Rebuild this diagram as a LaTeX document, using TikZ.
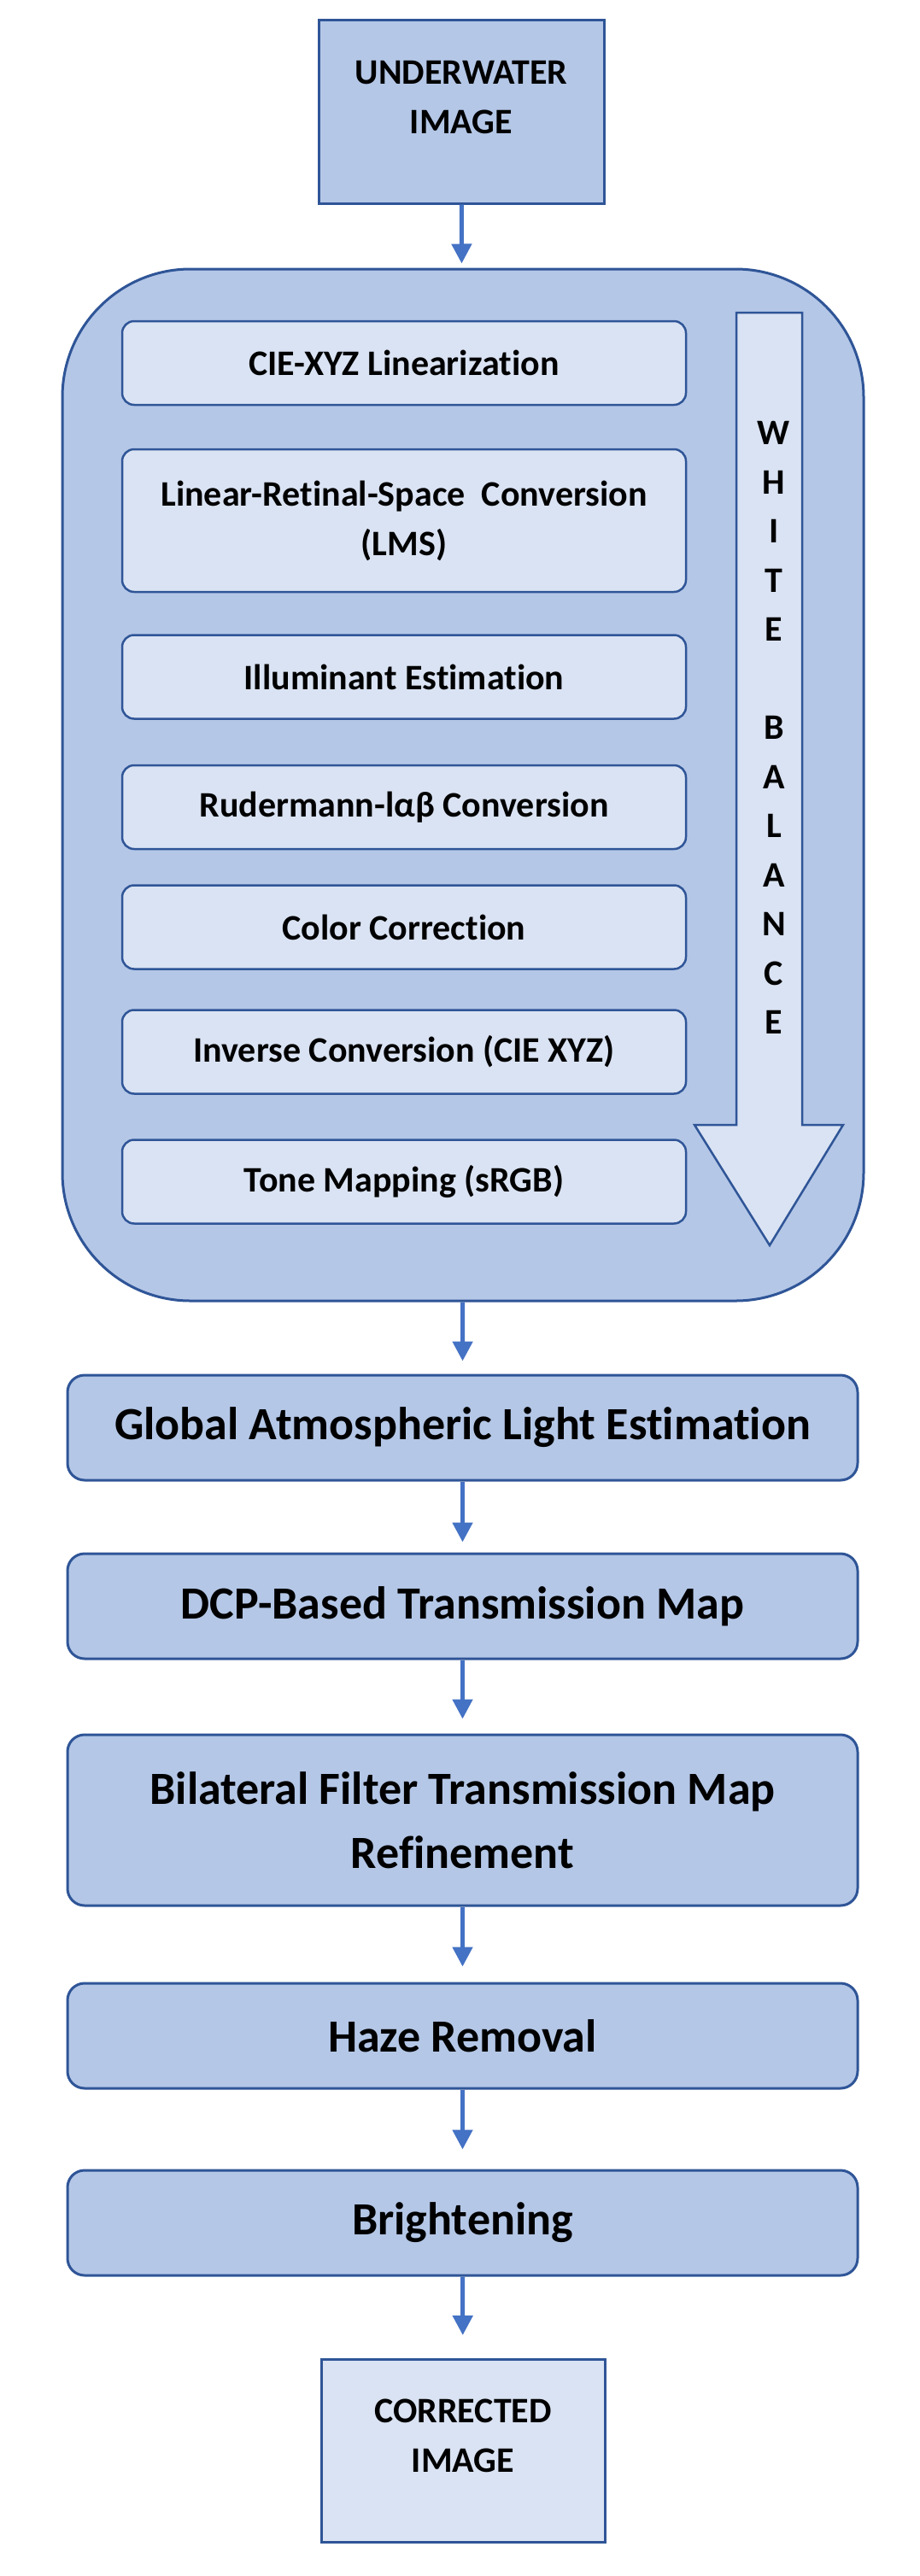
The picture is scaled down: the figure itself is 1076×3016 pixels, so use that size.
\documentclass[tikz,border=0pt]{standalone}
\usepackage{fontspec}
\setmainfont{Carlito}[Ligatures=NoCommon]
\usetikzlibrary{arrows.meta}
\definecolor{boxfill}{HTML}{B4C7E7}
\definecolor{stepfill}{HTML}{DAE3F3}
\definecolor{boxline}{HTML}{2F5597}
\definecolor{flowblue}{HTML}{4472C4}
\tikzset{
  imgbox/.style={draw=boxline, line width=3pt, minimum width=334pt, minimum height=214pt, inner sep=0pt},
  imgtext/.style={align=center, inner sep=0pt, font=\bfseries\fontsize{42}{58}\selectfont},
  wbstep/.style={draw=boxline, fill=stepfill, line width=2.5pt, rounded corners=14pt, minimum width=660pt, minimum height=98pt, inner sep=0pt, align=center, font=\bfseries\fontsize{42}{58}\selectfont},
  mainstep/.style={draw=boxline, fill=boxfill, line width=3pt, rounded corners=20pt, minimum width=925pt, minimum height=123pt, inner sep=0pt, align=center, font=\bfseries\fontsize{54}{75}\selectfont},
  flow/.style={draw=flowblue, line width=5pt, -{Triangle[width=23pt,length=23pt]}},
}
\begin{document}
\begin{tikzpicture}[x=1pt,y=-1pt]
\useasboundingbox (0,0) rectangle (1076,3016);
\node[imgbox, fill=boxfill] (input) at (540,131) {};
\node[imgtext] (inputtext) at (540,114) {UNDERWATER\\IMAGE};
%
\node[draw=boxline, fill=boxfill, line width=3pt, rounded corners=150pt, minimum width=938pt, minimum height=1208pt] (wb) at (542,919) {};
\node[wbstep] (cie) at (473,425) {CIE-XYZ Linearization};
\node[wbstep, minimum height=167pt] (lms) at (473,609.5) {Linear-Retinal-Space\ \ Conversion\\(LMS)};
\node[wbstep] (illum) at (473,792.5) {Illuminant Estimation};
\node[wbstep] (lab) at (473,945) {Rudermann-lαβ Conversion};
\node[wbstep] (colcorr) at (473,1085.5) {Color Correction};
\node[wbstep] (inverse) at (473,1231.5) {Inverse Conversion (CIE XYZ)};
\node[wbstep] (tone) at (473,1383.5) {Tone Mapping (sRGB)};
\draw[boxline, fill=stepfill, line width=2.5pt] (862,366) -- (939,366) -- (939,1317) -- (987,1317) -- (901,1458) -- (813,1317) -- (862,1317) -- cycle;
\node[imgtext, font=\bfseries\fontsize{42}{57.5}\selectfont] (wbtext) at (906,852) {W\\H\\I\\T\\E\\[57.5pt]B\\A\\L\\A\\N\\C\\E};
%
\node[mainstep] (atmo) at (541.5,1671.5) {Global Atmospheric Light Estimation};
\node[mainstep] (dcp) at (541.5,1880.5) {DCP-Based Transmission Map};
\node[mainstep, minimum height=200pt] (bilat) at (541.5,2131) {Bilateral Filter Transmission Map\\Refinement};
\node[mainstep] (haze) at (541.5,2383.5) {Haze Removal};
\node[mainstep] (bright) at (541.5,2602.5) {Brightening};
%
\node[imgbox, fill=stepfill, minimum width=332pt] (output) at (542,2869.5) {};
\node[imgtext] (outputtext) at (542,2852) {CORRECTED\\IMAGE};
%
\draw[flow, shorten >=5pt] (input) -- (wb);
\draw[flow, shorten >=15pt] (wb) -- (atmo);
\draw[flow, shorten >=12pt] (atmo) -- (dcp);
\draw[flow, shorten >=17pt] (dcp) -- (bilat);
\draw[flow, shorten >=18pt] (bilat) -- (haze);
\draw[flow, shorten >=23pt] (haze) -- (bright);
\draw[flow, shorten >=27pt] (bright) -- (output);
\end{tikzpicture}
\end{document}
